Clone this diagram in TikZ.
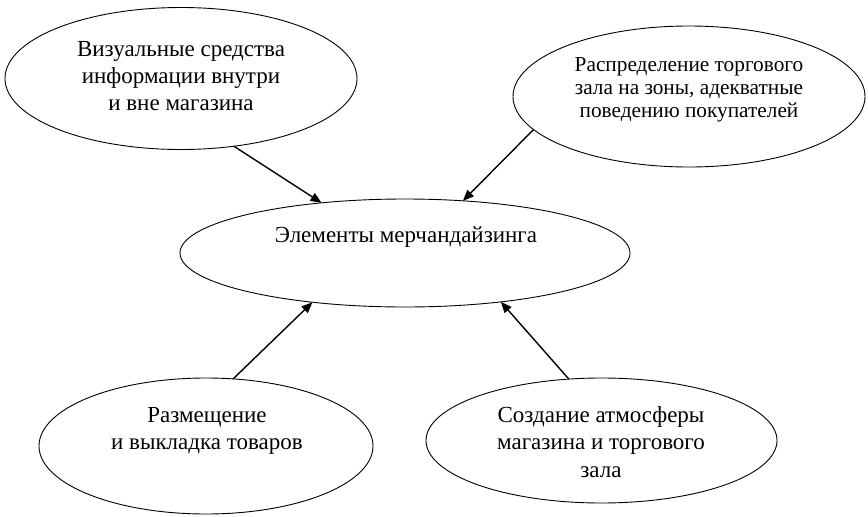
\documentclass[tikz,border=0pt]{standalone}
\usepackage{fontspec}
\setmainfont{Liberation Serif}
\usetikzlibrary{shapes.geometric,arrows.meta}
\tikzset{
  ell/.style={draw=black, line width=0.9pt, ellipse, inner sep=0pt, outer sep=0pt},
  lbl/.style={align=center, inner sep=0pt, font=\fontsize{23}{27.3}\selectfont},
  lblsmall/.style={align=center, inner sep=0pt, font=\fontsize{21.3}{23.3}\selectfont},
  arr/.style={line width=1.4pt, -{Triangle[length=11pt,width=9pt]}}
}
\begin{document}
\begin{tikzpicture}[x=1pt,y=-1pt]
\useasboundingbox (0,0) rectangle (868,517);
% ellipses
\node[ell, minimum width=352pt, minimum height=142pt] (vis) at (181,78.5) {};
\node[ell, minimum width=352pt, minimum height=141pt] (zone) at (689,96.5) {};
\node[ell, minimum width=450pt, minimum height=108pt] (elem) at (405,253) {};
\node[ell, minimum width=334pt, minimum height=136pt] (place) at (206,446) {};
\node[ell, minimum width=351pt, minimum height=125pt] (atm) at (601.5,440.5) {};
% texts
\node[lbl] (tvis) at (181,76) {Визуальные средства\\информации внутри\\и вне магазина};
\node[lblsmall] (tzone) at (689,90) {Распределение торгового\\зала на зоны, адекватные\\поведению покупателей};
\node[lbl] (telem) at (406,237) {Элементы мерчандайзинга};
\node[lbl] (tplace) at (207,431) {Размещение\\и выкладка товаров};
\node[lbl] (tatm) at (601,442) {Создание атмосферы\\магазина и торгового\\зала};
% connectors
\draw[arr] (vis.-52.8) -- (elem.149.5);
\draw[arr] (zone.-168) -- (elem.42.5);
\draw[arr] (place.68.3) -- (elem.-152.7);
\draw[arr] (atm.118.9) -- (elem.-27.9);
\end{tikzpicture}
\end{document}
